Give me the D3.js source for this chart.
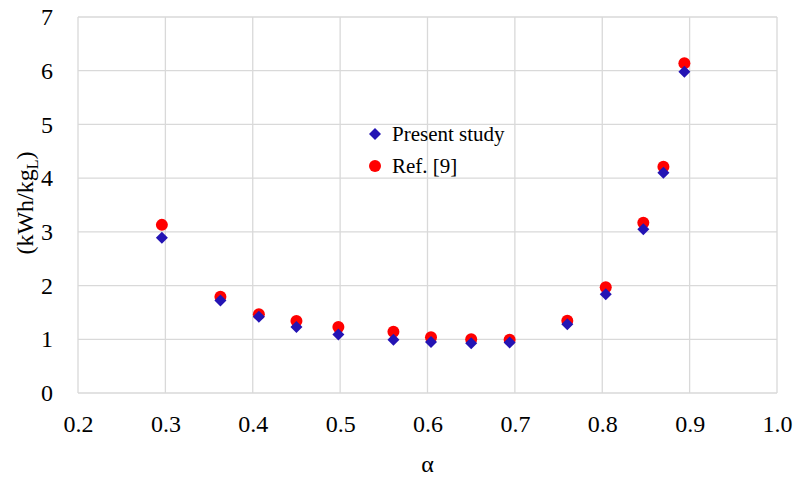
<!DOCTYPE html>
<html>
<head>
<meta charset="utf-8">
<script src="https://cdn.jsdelivr.net/npm/d3@7"></script>
<style>
  html, body { margin: 0; padding: 0; background: #fff; }
</style>
</head>
<body>
<svg id="chart"></svg>
<script>
// Data
const alpha = [0.296, 0.363, 0.407, 0.450, 0.498, 0.561, 0.604, 0.650, 0.694, 0.760, 0.804, 0.847, 0.870, 0.894];
const presentStudy = [2.89, 1.72, 1.42, 1.23, 1.09, 0.99, 0.95, 0.925, 0.94, 1.28, 1.84, 3.05, 4.10, 5.98];
const ref9 = [3.13, 1.79, 1.465, 1.34, 1.23, 1.14, 1.04, 1.00, 0.99, 1.346, 1.97, 3.17, 4.21, 6.14];
const xTicks = [0.2, 0.3, 0.4, 0.5, 0.6, 0.7, 0.8, 0.9, 1.0];
const yTicks = [0, 1, 2, 3, 4, 5, 6, 7];

const FONT = "'Liberation Serif', 'DejaVu Serif', serif";
const W = 795, H = 477;
const plot = { left: 78, right: 777, top: 17, bottom: 393 };

const svg = d3.select("#chart").attr("width", W).attr("height", H)
  .attr("font-family", FONT);

const x = d3.scaleLinear().domain([0.2, 1.0]).range([plot.left, plot.right]);
const y = d3.scaleLinear().domain([0, 7]).range([plot.bottom, plot.top]);

// grid
const grid = svg.append("g").attr("stroke", "#d9d9d9").attr("stroke-width", 1.3);
grid.selectAll("line.v").data(xTicks).join("line")
  .attr("x1", d => x(d)).attr("x2", d => x(d))
  .attr("y1", plot.top).attr("y2", plot.bottom);
grid.selectAll("line.h").data(yTicks).join("line")
  .attr("x1", plot.left).attr("x2", plot.right)
  .attr("y1", d => y(d)).attr("y2", d => y(d));

// axes (labels only, lines come from the grid)
const xAxis = svg.append("g")
  .attr("transform", `translate(0,${plot.bottom})`)
  .call(d3.axisBottom(x).tickValues(xTicks).tickFormat(d3.format(".1f")).tickSize(0).tickPadding(22))
  .attr("font-family", FONT).attr("font-size", 24);
xAxis.select(".domain").remove();
xAxis.selectAll("text").attr("fill", "#000");

const yAxis = svg.append("g")
  .attr("transform", `translate(${plot.left},0)`)
  .call(d3.axisLeft(y).tickValues(yTicks).tickFormat(d3.format("d")).tickSize(0).tickPadding(25))
  .attr("font-family", FONT).attr("font-size", 24);
yAxis.select(".domain").remove();
yAxis.selectAll("text").attr("fill", "#000");

// axis titles
svg.append("text")
  .attr("x", (plot.left + plot.right) / 2).attr("y", 472)
  .attr("text-anchor", "middle").attr("font-size", 24)
  .text("α");

const yTitle = svg.append("text")
  .attr("transform", "translate(33,203) rotate(-90)")
  .attr("text-anchor", "middle").attr("font-size", 24);
yTitle.append("tspan").text("(kWh/kg");
yTitle.append("tspan").attr("dy", 5).attr("font-size", 16).text("L");
yTitle.append("tspan").attr("dy", -5).text(")");

// markers
const diamond = d3.symbol().type(d3.symbolDiamond2).size(92);

svg.append("g").selectAll("circle").data(alpha).join("circle")
  .attr("cx", d => x(d)).attr("cy", (d, i) => y(ref9[i]))
  .attr("r", 6).attr("fill", "#ff0000");

svg.append("g").selectAll("path").data(alpha).join("path")
  .attr("d", diamond)
  .attr("transform", (d, i) => `translate(${x(d)},${y(presentStudy[i])})`)
  .attr("fill", "#2414b4");

// legend
const legend = svg.append("g").attr("font-size", 21);
legend.append("path").attr("d", diamond)
  .attr("transform", "translate(375,134)").attr("fill", "#2414b4");
legend.append("text").attr("x", 392).attr("y", 141).text("Present study");
legend.append("circle").attr("cx", 375).attr("cy", 166).attr("r", 6).attr("fill", "#ff0000");
legend.append("text").attr("x", 392).attr("y", 173).text("Ref. [9]");
</script>
</body>
</html>
